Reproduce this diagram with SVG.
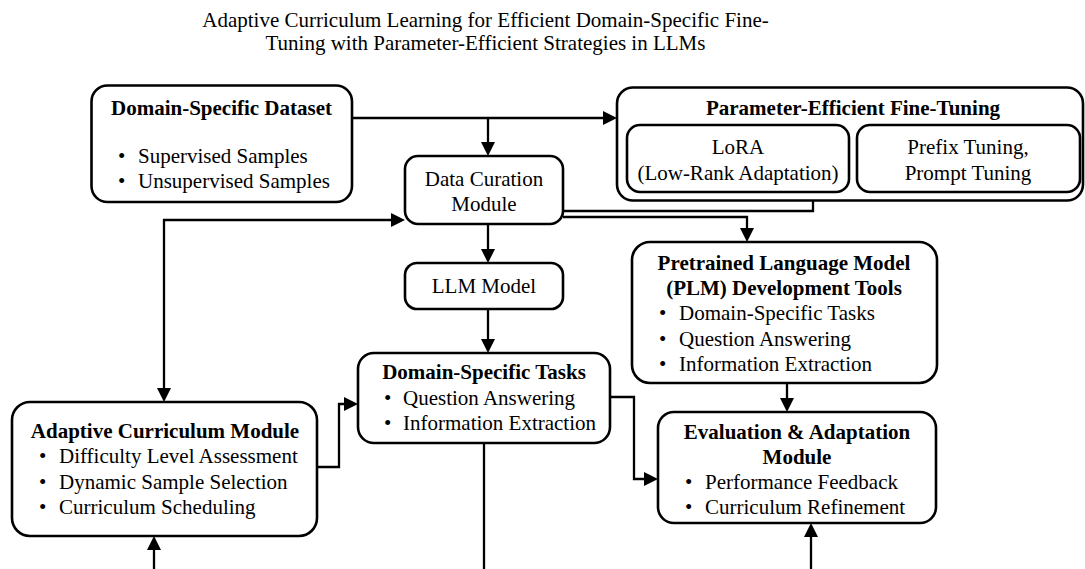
<svg xmlns="http://www.w3.org/2000/svg" width="1085" height="569" viewBox="0 0 1085 569">
<defs>
<marker id="ah" markerUnits="userSpaceOnUse" markerWidth="14" markerHeight="14" refX="10" refY="7" orient="auto-start-reverse" viewBox="0 0 14 14">
<path d="M0,0 L14,7 L0,14 z" fill="#000"/>
</marker>
<style>
text{font-family:"Liberation Serif","Times New Roman",serif;font-size:21px;fill:#000}
.b{font-weight:bold}
.c{text-anchor:middle}
.box{fill:#fff;stroke:#000;stroke-width:2.6}
.ln{fill:none;stroke:#000;stroke-width:2.3}
.arr{marker-end:url(#ah)}
</style>
</defs>
<rect width="1085" height="569" fill="#fff"/>
<g id="title">
<text class="c" x="485.5" y="27">Adaptive Curriculum Learning for Efficient Domain-Specific Fine-</text>
<text class="c" x="485.5" y="50">Tuning with Parameter-Efficient Strategies in LLMs</text>
</g>
<g id="connectors">
<path class="ln arr" d="M352,118 H613"/>
<path class="ln arr" d="M488,118 V152"/>
<path class="ln arr" d="M488,224 V259"/>
<path class="ln arr" d="M488,309 V349"/>
<path class="ln arr" d="M164,398 V220 H401" marker-start="url(#ah)"/>
<path class="ln" d="M813,201 V211 H563"/>
<path class="ln arr" d="M563,217 H747 V238"/>
<path class="ln arr" d="M317,467 H339 V404 H354"/>
<path class="ln arr" d="M610,397 H634 V479 H654"/>
<path class="ln arr" d="M787,383 V408"/>
<path class="ln arr" d="M154,569 V540"/>
<path class="ln" d="M484,443 V569"/>
<path class="ln arr" d="M811,569 V527"/>
</g>
<g id="dataset">
<rect class="box" x="91.5" y="85.5" width="260.5" height="116.5" rx="16"/>
<text class="b c" x="221.5" y="115">Domain-Specific Dataset</text>
<text y="163"><tspan x="118">•</tspan><tspan x="138">Supervised Samples</tspan></text>
<text y="188"><tspan x="118">•</tspan><tspan x="138">Unsupervised Samples</tspan></text>
</g>
<g id="peft">
<rect class="box" x="617" y="87.5" width="466" height="113" rx="16"/>
<text class="b c" x="853" y="115">Parameter-Efficient Fine-Tuning</text>
<g id="lora">
<rect class="box" x="627" y="125" width="222" height="67" rx="13"/>
<text class="c" x="738" y="154">LoRA</text>
<text class="c" x="738" y="180">(Low-Rank Adaptation)</text>
</g>
<g id="prefix">
<rect class="box" x="857" y="125" width="223" height="67" rx="13"/>
<text class="c" x="968" y="154">Prefix Tuning,</text>
<text class="c" x="968" y="180">Prompt Tuning</text>
</g>
</g>
<g id="curation">
<rect class="box" x="405" y="156" width="158" height="68" rx="13"/>
<text class="c" x="484" y="186">Data Curation</text>
<text class="c" x="484" y="211">Module</text>
</g>
<g id="llm">
<rect class="box" x="405" y="263" width="158" height="46" rx="12"/>
<text class="c" x="484" y="293">LLM Model</text>
</g>
<g id="plm">
<rect class="box" x="632" y="242" width="305" height="141" rx="18"/>
<text class="b c" x="784" y="270">Pretrained Language Model</text>
<text class="b c" x="784" y="295">(PLM) Development Tools</text>
<text y="320"><tspan x="659">•</tspan><tspan x="679">Domain-Specific Tasks</tspan></text>
<text y="346"><tspan x="659">•</tspan><tspan x="679">Question Answering</tspan></text>
<text y="371"><tspan x="659">•</tspan><tspan x="679">Information Extraction</tspan></text>
</g>
<g id="tasks">
<rect class="box" x="358" y="353" width="252" height="90" rx="16"/>
<text class="b c" x="484" y="379">Domain-Specific Tasks</text>
<text y="405"><tspan x="384">•</tspan><tspan x="403">Question Answering</tspan></text>
<text y="430"><tspan x="384">•</tspan><tspan x="403">Information Extraction</tspan></text>
</g>
<g id="adaptive">
<rect class="box" x="12" y="402" width="305" height="134" rx="18"/>
<text class="b c" x="165" y="438">Adaptive Curriculum Module</text>
<text y="463"><tspan x="39">•</tspan><tspan x="59">Difficulty Level Assessment</tspan></text>
<text y="489"><tspan x="39">•</tspan><tspan x="59">Dynamic Sample Selection</tspan></text>
<text y="514"><tspan x="39">•</tspan><tspan x="59">Curriculum Scheduling</tspan></text>
</g>
<g id="evaluation">
<rect class="box" x="658" y="412" width="278" height="111" rx="16"/>
<text class="b c" x="797" y="439">Evaluation &amp; Adaptation</text>
<text class="b c" x="797" y="464">Module</text>
<text y="489"><tspan x="685">•</tspan><tspan x="705">Performance Feedback</tspan></text>
<text y="514"><tspan x="685">•</tspan><tspan x="705">Curriculum Refinement</tspan></text>
</g>
</svg>
